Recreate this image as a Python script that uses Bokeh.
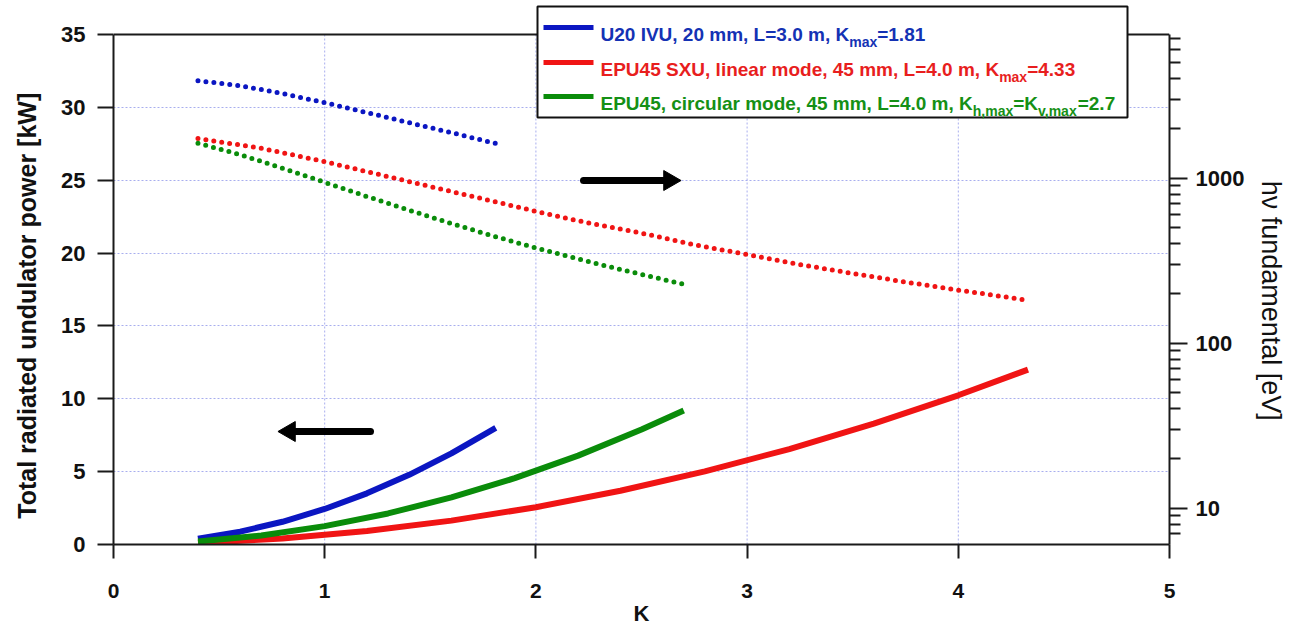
import math
from bokeh.plotting import figure
from bokeh.models import (Range1d, LogAxis, LogScale, FixedTicker, NumeralTickFormatter,
                          Arrow, Label, BoxAnnotation)
from bokeh.core.properties import value
from bokeh.embed import file_html
from bokeh.resources import INLINE

# ---------------- data ----------------
k_ticks = [0, 1, 2, 3, 4, 5]
power_ticks = [0, 5, 10, 15, 20, 25, 30, 35]
ev_ticks = [10, 100, 1000]
ev_minor_ticks = [6, 7, 8, 9, 20, 30, 40, 50, 60, 70, 80, 90,
                  200, 300, 400, 500, 600, 700, 800, 900,
                  2000, 3000, 4000, 5000, 6000, 7000]

# total radiated power [kW] (left axis)
u20_k_power = [0.40, 0.60, 0.80, 1.00, 1.20, 1.40, 1.60, 1.81]
u20_power = [0.40, 0.88, 1.56, 2.44, 3.51, 4.78, 6.25, 8.00]
lin_k_power = [0.40, 0.80, 1.20, 1.60, 2.00, 2.40, 2.80, 3.20, 3.60, 4.00, 4.33]
lin_power = [0.10, 0.41, 0.92, 1.64, 2.56, 3.69, 5.02, 6.55, 8.30, 10.24, 12.00]
circ_k_power = [0.40, 0.70, 1.00, 1.30, 1.60, 1.90, 2.20, 2.50, 2.70]
circ_power = [0.20, 0.62, 1.26, 2.13, 3.23, 4.55, 6.10, 7.89, 9.20]

# fundamental photon energy [eV] (right axis, log)
u20_k_energy = [0.40, 0.60, 0.80, 1.00, 1.20, 1.40, 1.60, 1.81]
u20_energy = [3900, 3640, 3260, 2870, 2500, 2170, 1890, 1625]
lin_k_energy = [0.40, 0.70, 1.00, 1.25, 1.50, 1.75, 2.00, 2.25, 2.50, 2.75,
                3.00, 3.25, 3.50, 3.75, 4.00, 4.15, 4.33]
lin_energy = [1740, 1520, 1260, 1060, 890, 750, 630, 535, 465, 395,
              345, 300, 265, 235, 210, 197, 182]
circ_k_energy = [0.40, 0.60, 0.80, 1.00, 1.20, 1.40, 1.60, 1.80, 2.00, 2.20, 2.40, 2.60, 2.70]
circ_energy = [1630, 1390, 1150, 945, 775, 640, 531, 446, 378, 324, 280, 244, 228]

legend_rows = [
    [("U20 IVU, 20 mm, L=3.0 m, K", False), ("max", True), ("=1.81", False)],
    [("EPU45 SXU, linear mode, 45 mm, L=4.0 m, K", False), ("max", True), ("=4.33", False)],
    [("EPU45, circular mode, 45 mm, L=4.0 m, K", False), ("h,max", True), ("=K", False),
     ("v,max", True), ("=2.7", False)],
]

# ---------------- style / layout ----------------
BLUE = "#0b16c2"
RED = "#f01414"
GREEN = "#0a8c0a"
TXT_BLUE = "#1432b4"
TXT_RED = "#e81e1e"
TXT_GREEN = "#159015"
colors = [BLUE, RED, GREEN]
txt_colors = [TXT_BLUE, TXT_RED, TXT_GREEN]
FONT = "Liberation Sans"
NBSP = "\u00a0"

W, H = 1298, 628
LEFT, RIGHT_PX, TOP, BOTTOM_PX = 113, 1169, 4, 544   # frame edges in page pixels
FRAME_W = RIGHT_PX - LEFT
PX_PER_K = FRAME_W / 5.0
PX_PER_KW = 510 / 35.0
Y_TOP = (BOTTOM_PX - TOP) / PX_PER_KW
EV_BOTTOM = 6.03
DECADE_PX = 165.0
EV_TOP = EV_BOTTOM * 10 ** ((BOTTOM_PX - TOP) / DECADE_PX)
EV_AXIS_TOP = EV_BOTTOM * 10 ** (510 / DECADE_PX)

p = figure(width=W, height=H, output_backend="svg", toolbar_location=None,
           x_range=Range1d(0, 5), y_range=Range1d(0, Y_TOP),
           min_border_left=LEFT, min_border_right=W - RIGHT_PX,
           min_border_top=TOP, min_border_bottom=H - BOTTOM_PX)
p.outline_line_color = None
p.background_fill_color = "white"
p.border_fill_color = "white"

p.extra_y_ranges = {"ev": Range1d(EV_BOTTOM, EV_TOP)}
p.extra_y_scales = {"ev": LogScale()}

# axes
for ax in (p.xaxis[0], p.yaxis[0]):
    ax.axis_line_width = 2
    ax.axis_line_color = "#1a1a1a"
    ax.major_tick_line_width = 2
    ax.major_tick_line_color = "#1a1a1a"
    ax.minor_tick_line_color = None
    ax.major_tick_in = 0
    ax.major_label_text_font = FONT
    ax.major_label_text_font_style = "bold"
    ax.major_label_text_color = "#111111"
    ax.axis_label_text_font = FONT
    ax.axis_label_text_font_style = "bold"
    ax.axis_label_text_color = "#111111"

xa = p.xaxis[0]
xa.ticker = FixedTicker(ticks=k_ticks)
xa.bounds = (0, 5)
xa.major_tick_out = 14
xa.major_label_text_font_size = "21px"
xa.major_label_standoff = 25
xa.axis_label = "K"
xa.axis_label_text_font_size = "22px"
xa.axis_label_standoff = 0

ya = p.yaxis[0]
ya.ticker = FixedTicker(ticks=power_ticks)
ya.bounds = (0, 35)
ya.major_tick_out = 16
ya.major_label_text_font_size = "22px"
ya.major_label_standoff = 12
# trailing no-break spaces shift the rotated title towards the lower part of the axis
ya.axis_label = "Total radiated undulator power [kW]" + NBSP * 9
ya.axis_label_text_font_size = "25px"
ya.axis_label_standoff = 17

ra = LogAxis(y_range_name="ev", bounds=(EV_BOTTOM, EV_AXIS_TOP),
             ticker=FixedTicker(ticks=ev_ticks, minor_ticks=ev_minor_ticks),
             formatter=NumeralTickFormatter(format="0"))
ra.axis_line_width = 2
ra.axis_line_color = "#1a1a1a"
ra.major_tick_line_width = 2
ra.major_tick_line_color = "#1a1a1a"
ra.minor_tick_line_width = 2
ra.minor_tick_line_color = "#1a1a1a"
ra.major_tick_in = 0
ra.major_tick_out = 18
ra.minor_tick_in = 0
ra.minor_tick_out = 11
ra.major_label_standoff = 8
ra.major_label_text_font = FONT
ra.major_label_text_font_style = "bold"
ra.major_label_text_font_size = "22px"
ra.major_label_text_color = "#111111"
ra.axis_label = NBSP * 7 + "hν fundamental [eV]"
ra.axis_label_text_font = FONT
ra.axis_label_text_font_style = "normal"
ra.axis_label_text_font_size = "27px"
ra.axis_label_text_color = "#111111"
ra.axis_label_standoff = 9
p.add_layout(ra, "right")

# grid: horizontal via Bokeh grid, vertical drawn only up to the 35 kW border
GRID_COLOR = "#a8aeee"
p.ygrid[0].grid_line_color = GRID_COLOR
p.ygrid[0].grid_line_dash = "2 2"
p.ygrid[0].grid_line_width = 1
p.ygrid[0].ticker = FixedTicker(ticks=power_ticks)
p.xgrid[0].visible = False
grid_k = k_ticks[1:]
p.segment(x0=grid_k, y0=[power_ticks[0]] * len(grid_k), x1=grid_k, y1=[power_ticks[-1]] * len(grid_k),
          line_color=GRID_COLOR, line_dash="2 2", line_width=1, level="underlay")

# top border of the frame (35 kW)
p.segment(x0=[k_ticks[0]], y0=[power_ticks[-1]], x1=[k_ticks[-1]], y1=[power_ticks[-1]],
          line_color="#1a1a1a", line_width=2)

# energy curves (dotted, right axis)
for kx, ev, c in ((u20_k_energy, u20_energy, BLUE),
                  (lin_k_energy, lin_energy, RED),
                  (circ_k_energy, circ_energy, GREEN)):
    p.line(kx, ev, y_range_name="ev", line_color=c, line_width=5,
           line_dash="0 8", line_cap="round")

# power curves (solid, left axis)
for kx, pw, c in ((u20_k_power, u20_power, BLUE),
                  (lin_k_power, lin_power, RED),
                  (circ_k_power, circ_power, GREEN)):
    p.line(kx, pw, line_color=c, line_width=6, line_join="round")


def px_k(px):
    return (px - LEFT) / PX_PER_K


def px_p(py):
    return (BOTTOM_PX - py) / PX_PER_KW


# axis-pointing arrows (shaft + triangular head)
HEAD = 20
arrows = [(370, 280, 431), (583, 678, 180)]   # tail x, tip x, y (page px)
for tail, tip, yy in arrows:
    d = 1 if tip > tail else -1
    head_c = tip - d * HEAD * 0.45
    p.segment(x0=[px_k(tail)], y0=[px_p(yy)], x1=[px_k(head_c)], y1=[px_p(yy)],
              line_color="black", line_width=7, line_cap="round")
    p.scatter(x=[px_k(head_c)], y=[px_p(yy)], marker="triangle", size=HEAD,
              angle=-d * math.pi / 2, fill_color="black", line_color="black", line_width=1)

# legend (custom, to allow subscripts)
ARIAL_BOLD = {' ': 278, ',': 278, '.': 278, '=': 584,
              '0': 556, '1': 556, '2': 556, '3': 556, '4': 556, '5': 556,
              '6': 556, '7': 556, '8': 556, '9': 556,
              'E': 667, 'P': 667, 'U': 722, 'S': 667, 'X': 667, 'I': 278, 'V': 667,
              'L': 611, 'K': 722,
              'a': 556, 'c': 556, 'd': 611, 'e': 556, 'h': 611, 'i': 278, 'l': 278,
              'm': 889, 'n': 611, 'o': 611, 'r': 389, 'u': 611, 'v': 556, 'x': 556, 't': 333}


def text_w(s, size):
    return sum(ARIAL_BOLD.get(ch, 556) for ch in s) * size / 1000.0


MAIN_SIZE = 19
SUB_SIZE = 14
p.add_layout(BoxAnnotation(left=px_k(537), right=px_k(1127), top=px_p(6), bottom=px_p(117),
                           fill_color="white", fill_alpha=1.0,
                           line_color="#111111", line_width=2, line_alpha=1.0, level="annotation"))
row_py = [27, 62, 96]
for i, pieces in enumerate(legend_rows):
    yc = row_py[i]
    p.add_layout(Arrow(x_start=px_k(543), y_start=px_p(yc), x_end=px_k(593), y_end=px_p(yc),
                       line_width=5, line_color=colors[i], end=None))
    xpx = 600.0
    for txt, is_sub in pieces:
        size = SUB_SIZE if is_sub else MAIN_SIZE
        base_py = yc + (14 if is_sub else 7)
        p.add_layout(Label(x=px_k(xpx), y=px_p(base_py), text=txt,
                           text_font=FONT, text_font_style="bold",
                           text_font_size=f"{size}px", text_color=txt_colors[i],
                           text_baseline="alphabetic", text_align="left"))
        xpx += text_w(txt, size)

open("out.html", "w").write(file_html(p, INLINE))
